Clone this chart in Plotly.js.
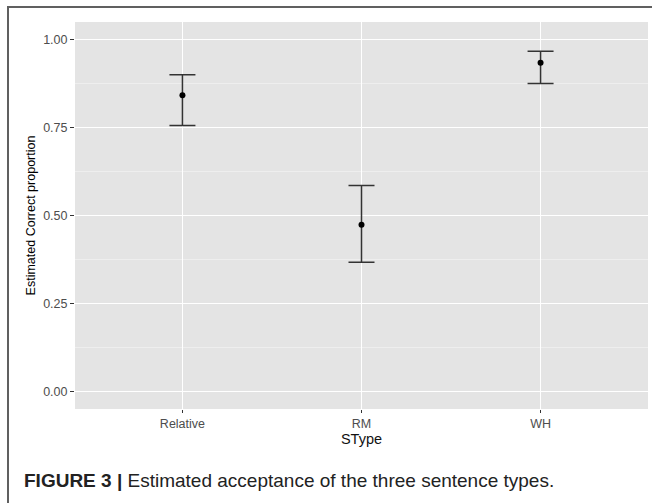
<!DOCTYPE html>
<html>
<head>
<meta charset="utf-8">
<script src="https://cdn.plot.ly/plotly-3.0.1.min.js"></script>
<style>
  html, body { margin: 0; padding: 0; background: #ffffff; }
  #wrap { position: relative; width: 652px; height: 503px; overflow: hidden; }
  #chart { position: absolute; left: 0; top: 0; width: 652px; height: 503px; }
  #frame { position: absolute; left: 7px; top: 6px; width: 660px; height: 520px;
           border-left: 2px solid #606060; border-top: 2px solid #606060; pointer-events: none; }
</style>
</head>
<body>
<div id="wrap">
  <div id="chart"></div>
  <div id="frame"></div>
</div>
<script>
// Data
const categories = ['Relative', 'RM', 'WH'];
const estimate = [0.842, 0.474, 0.934];
const upper = [0.900, 0.585, 0.967];
const lower = [0.756, 0.367, 0.875];

const yTickVals = [0, 0.25, 0.5, 0.75, 1.0];
const yTickText = ['0.00', '0.25', '0.50', '0.75', '1.00'];
const yMinorVals = [0.125, 0.375, 0.625, 0.875];

const xTitle = 'SType';
const yTitle = 'Estimated Correct proportion';
const captionBold = 'FIGURE 3 |';
const captionText = ' Estimated acceptance of the three sentence types.';

const trace = {
  type: 'scatter',
  mode: 'markers',
  x: categories,
  y: estimate,
  marker: { color: '#000000', size: 6 },
  error_y: {
    type: 'data',
    symmetric: false,
    array: upper.map((u, i) => u - estimate[i]),
    arrayminus: lower.map((l, i) => estimate[i] - l),
    color: '#333333',
    thickness: 1.5,
    width: 13
  },
  hoverinfo: 'skip',
  showlegend: false
};

const tickFont = { family: 'Liberation Sans, Arial, sans-serif', size: 12.5, color: '#4D4D4D' };

const layout = {
  width: 652,
  height: 503,
  margin: { l: 75, r: 4, t: 22, b: 94 },
  paper_bgcolor: '#FFFFFF',
  plot_bgcolor: '#E4E4E4',
  showlegend: false,
  xaxis: {
    type: 'category',
    range: [-0.6, 2.6],
    showgrid: true,
    gridcolor: '#FFFFFF',
    gridwidth: 1.3,
    zeroline: false,
    showline: false,
    ticks: 'outside',
    ticklen: 3,
    tickwidth: 1,
    tickcolor: '#333333',
    tickfont: tickFont,
    title: { text: xTitle, font: { family: 'Liberation Sans, Arial, sans-serif', size: 14.5, color: '#111111' }, standoff: 0 },
    fixedrange: true
  },
  yaxis: {
    range: [-0.05, 1.05],
    tickmode: 'array',
    tickvals: yTickVals,
    ticktext: yTickText,
    showgrid: true,
    gridcolor: '#FFFFFF',
    gridwidth: 1.3,
    minor: { tickmode: 'array', tickvals: yMinorVals, showgrid: true, gridcolor: '#F2F2F2', gridwidth: 0.7, ticks: '' },
    zeroline: false,
    showline: false,
    ticks: 'outside',
    ticklen: 4,
    tickwidth: 1,
    tickcolor: '#333333',
    tickfont: tickFont,
    title: { text: yTitle, font: { family: 'Liberation Sans, Arial, sans-serif', size: 12.5, color: '#000000' }, standoff: 4 },
    fixedrange: true
  },
  annotations: [
    {
      xref: 'paper', yref: 'paper',
      x: (22 - 75) / 573, y: (409 - 481) / 387,
      xanchor: 'left', yanchor: 'middle',
      showarrow: false,
      align: 'left',
      text: '<b>' + captionBold + '</b>' + captionText,
      font: { family: 'Liberation Sans, Arial, sans-serif', size: 19, color: '#222222' }
    }
  ]
};

Plotly.newPlot('chart', [trace], layout, { displayModeBar: false, staticPlot: true });
</script>
</body>
</html>
